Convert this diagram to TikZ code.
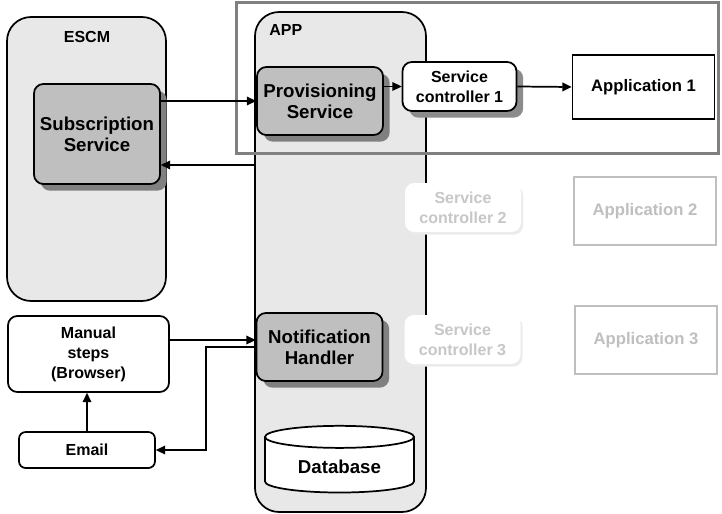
\documentclass[tikz,border=0pt]{standalone}
\usepackage{fontspec}
\setmainfont{Liberation Sans}
\usetikzlibrary{shapes.geometric, arrows.meta}

\begin{document}
\begin{tikzpicture}[x=0.75pt, y=-0.75pt, line width=1.3pt,
        font=\bfseries\fontsize{12}{15}\selectfont,
        shade/.style={preaction={draw=none, fill=black!#1,
            transform canvas={xshift=5pt, yshift=-5pt}}},
        container/.style={draw, fill=black!9, rounded corners=18pt},
        service/.style={draw, fill=black!25, rounded corners=7pt, align=center,
            minimum width=94.5pt, minimum height=51pt,
            font=\bfseries\fontsize{14}{16}\selectfont, shade=50},
        ctrl/.style={draw, fill=white, rounded corners=7pt, align=center,
            minimum width=85.5pt, minimum height=36.75pt, shade=45},
        ghost/.style={fill=white, rounded corners=7pt, align=center, text=black!22,
            minimum width=87pt, minimum height=36.75pt,
            preaction={fill=black!8, transform canvas={xshift=1.5pt, yshift=-2pt}}},
        appbox/.style={draw, fill=white, minimum width=106.5pt, minimum height=51pt},
        plain/.style={draw, fill=white, rounded corners=7pt, align=center},
        arr/.style={-{Triangle[length=7pt, width=6.5pt]}}]
    \useasboundingbox (0,0) rectangle (722,514);
    % containers
    \node[container, minimum width=119.25pt, minimum height=213pt] (escm) at (86.5,159) {};
    \node (escmname) at (87,37) {ESCM};
    \node[container, minimum width=128.25pt, minimum height=375pt] (app) at (340.5,262) {};
    \node[anchor=west] (appname) at (264,30) {APP};
    % highlighted path
    \draw[black!50, line width=2.6pt] (236.5,2.5) rectangle (718.5,153.5);
    % boxes
    \node[service] (sub) at (97,134) [minimum height=75pt] {Subscription\\Service};
    \node[service] (prov) at (320,101) {Provisioning\\Service};
    \node[service] (notif) at (319.5,347) {Notification\\Handler};
    \node[ctrl] (sc1) at (459.5,86.5) {Service\\controller 1};
    \node[ghost] (sc2) at (463,207.5) {Service\\controller 2};
    \node[ghost] (sc3) at (462.5,339.5) {Service\\controller 3};
    \node[appbox, minimum height=48pt] (app1) at (643.5,87) {\fontsize{12.5}{15}\selectfont Application 1};
    \node[appbox, draw=black!25, text=black!25] (app2) at (645,211) {\fontsize{12.5}{15}\selectfont Application 2};
    \node[appbox, draw=black!25, text=black!25] (app3) at (646,340) {\fontsize{12.5}{15}\selectfont Application 3};
    \node[plain, minimum width=120.75pt, minimum height=57pt] (manual) at (88.5,354) {Manual\\steps\\(Browser)};
    \node[plain, minimum width=102pt, minimum height=27pt, rounded corners=5pt] (email) at (87,450) {Email};
    \node[cylinder, shape border rotate=90, draw, fill=white, aspect=.24,
          minimum width=111.75pt, minimum height=50pt,
          font=\bfseries\fontsize{14}{16}\selectfont] (db) at (339.5,467) {Database};
    % connectors
    \coordinate (back) at (255,165);
    \draw[arr] (sub.east |- prov.west) -- (prov.west);
    \draw[arr] (back) -- (sub.east |- back);
    \draw[arr] (prov.east |- sc1.west) -- (sc1.west);
    \draw[arr] (sc1.east) -- (app1.west);
    \draw[arr] ([yshift=10.5pt]manual.east) coordinate (m1) -- (notif.west |- m1);
    \draw[arr] (notif.west) -- ++(-50,0) |- (email.east);
    \draw[arr] (email.north) -- (email.north |- manual.south);
\end{tikzpicture}
\end{document}
